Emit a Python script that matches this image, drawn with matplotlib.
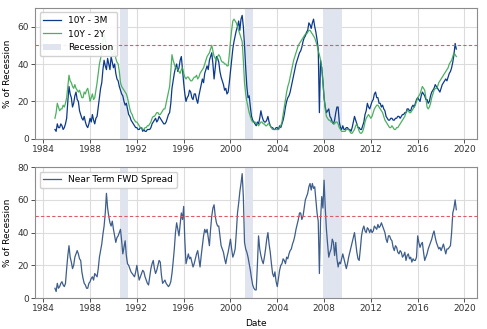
import numpy as np
import matplotlib
matplotlib.use('Agg')
import matplotlib.pyplot as plt

# sampling dates (decimal years), ten per year from 1985.0 to 2019.3
dates = np.round(np.arange(1985.0, 2019.31, 0.1), 1)

# recession probability from the 10Y - 3M spread [%]
p_10y3m = [
    5, 4, 8, 6, 6, 8, 7, 5, 6, 8,
    11, 20, 28, 24, 22, 17, 19, 23, 25, 21,
    20, 15, 13, 11, 10, 12, 9, 7, 6, 8,
    11, 9, 13, 10, 8, 11, 12, 17, 22, 27,
    30, 37, 42, 39, 37, 43, 40, 37, 44, 41,
    38, 40, 35, 32, 31, 28, 26, 24, 23, 20,
    18, 19, 16, 13, 12, 10, 9, 8, 7, 6,
    6, 5, 5, 6, 6, 4, 5, 4, 4, 5,
    5, 5, 6, 8, 9, 10, 11, 9, 10, 12,
    11, 10, 9, 8, 8, 9, 11, 13, 14, 19,
    27, 31, 35, 38, 40, 36, 38, 42, 44, 37,
    30, 24, 20, 22, 23, 26, 25, 22, 21, 24,
    24, 21, 19, 23, 26, 29, 32, 30, 35, 37,
    39, 37, 42, 44, 46, 40, 32, 38, 44, 43,
    41, 36, 33, 31, 29, 26, 27, 24, 25, 30,
    36, 42, 48, 52, 55, 58, 60, 63, 58, 64,
    66, 60, 50, 38, 28, 22, 23, 17, 12, 10,
    9, 8, 7, 9, 8, 11, 15, 12, 10, 9,
    9, 10, 12, 9, 7, 6, 6, 5, 5, 6,
    6, 5, 7, 6, 8, 10, 13, 17, 20, 22,
    23, 25, 28, 31, 34, 37, 40, 42, 44, 46,
    47, 49, 52, 54, 55, 57, 58, 62, 61, 59,
    62, 64, 60, 57, 53, 48, 14, 42, 38, 31,
    22, 17, 14, 15, 16, 12, 11, 9, 8, 10,
    14, 17, 17, 9, 6, 5, 7, 5, 5, 6,
    6, 5, 5, 4, 6, 9, 12, 10, 8, 6,
    6, 5, 5, 7, 9, 13, 15, 19, 17, 16,
    18, 20, 21, 24, 25, 22, 22, 19, 19, 17,
    18, 16, 15, 12, 11, 10, 10, 11, 11, 10,
    10, 11, 11, 12, 12, 11, 12, 13, 13, 14,
    14, 16, 16, 15, 15, 17, 18, 17, 19, 21,
    22, 21, 20, 23, 25, 24, 23, 21, 21, 19,
    20, 23, 25, 26, 27, 29, 28, 27, 26, 25,
    27, 29, 30, 31, 32, 31, 33, 35, 36, 38,
    41, 45, 51, 48,
]

# recession probability from the 10Y - 2Y spread [%]
p_10y2y = [
    11, 14, 19, 17, 15, 16, 16, 18, 17, 19,
    22, 28, 34, 31, 30, 28, 27, 29, 27, 26,
    25, 26, 24, 22, 22, 25, 24, 26, 27, 24,
    20, 22, 24, 21, 22, 26, 30, 35, 40, 43,
    46, 52, 56, 53, 50, 48, 47, 49, 46, 45,
    45, 47, 43, 41, 40, 36, 30, 28, 27, 26,
    25, 24, 22, 19, 16, 14, 13, 11, 10, 9,
    9, 8, 7, 6, 6, 5, 5, 6, 6, 7,
    7, 8, 9, 11, 12, 12, 13, 14, 14, 13,
    13, 14, 15, 16, 16, 19, 22, 25, 28, 36,
    45, 42, 40, 38, 38, 37, 36, 35, 37, 38,
    35, 33, 32, 33, 33, 32, 31, 31, 32, 33,
    33, 34, 32, 33, 35, 36, 37, 38, 40, 42,
    44, 45, 46, 48, 50, 47, 44, 43, 42, 44,
    45, 44, 42, 41, 41, 40, 40, 39, 39, 45,
    52, 58, 63, 64, 63, 62, 60, 58, 56, 54,
    52, 42, 30, 24, 20, 17, 14, 12, 10, 9,
    9, 9, 8, 8, 7, 8, 9, 9, 8, 8,
    7, 7, 8, 8, 7, 6, 5, 5, 5, 5,
    5, 5, 6, 7, 9, 13, 17, 21, 25, 28,
    30, 33, 36, 39, 42, 44, 46, 48, 50, 51,
    52, 53, 54, 55, 56, 56, 57, 58, 58, 57,
    56, 55, 54, 52, 50, 47, 45, 42, 38, 30,
    22, 16, 12, 11, 10, 10, 9, 9, 8, 8,
    9, 9, 8, 6, 5, 4, 4, 4, 4, 5,
    5, 5, 4, 3, 3, 4, 5, 7, 8, 6,
    4, 3, 3, 4, 6, 9, 11, 12, 13, 12,
    11, 12, 14, 16, 17, 18, 18, 17, 16, 15,
    14, 12, 10, 9, 8, 7, 6, 6, 7, 6,
    5, 5, 6, 6, 7, 8, 9, 10, 11, 12,
    14, 15, 15, 14, 14, 15, 16, 17, 18, 20,
    22, 23, 24, 26, 28, 27, 26, 22, 17, 16,
    17, 19, 22, 24, 26, 27, 27, 28, 30, 31,
    32, 33, 34, 35, 36, 37, 38, 40, 41, 42,
    44, 46, 45, 44,
]

# recession probability from the near term forward spread [%]
p_ntfs = [
    6, 4, 9, 6, 7, 9, 10, 8, 7, 9,
    18, 26, 32, 25, 22, 18, 20, 25, 27, 29,
    27, 24, 23, 16, 12, 9, 8, 6, 6, 9,
    10, 12, 13, 11, 15, 14, 13, 18, 25, 29,
    33, 39, 44, 52, 64, 55, 50, 46, 44, 47,
    42, 38, 34, 37, 38, 40, 42, 35, 27, 31,
    35, 26, 21, 20, 18, 16, 15, 14, 13, 16,
    20, 15, 11, 13, 15, 17, 16, 13, 11, 9,
    8, 13, 18, 21, 23, 18, 15, 17, 20, 23,
    22, 14, 9, 10, 11, 9, 8, 7, 8, 10,
    15, 22, 30, 40, 46, 42, 38, 45, 52, 48,
    56, 35, 21, 24, 27, 24, 25, 22, 19, 21,
    24, 27, 29, 24, 19, 26, 32, 38, 42, 40,
    42, 37, 32, 42, 50, 55, 57, 50, 46, 44,
    44, 38, 32, 30, 28, 24, 21, 25, 28, 32,
    36, 30, 25, 27, 30, 40, 52, 58, 65, 70,
    76, 62, 34, 30, 28, 25, 21, 17, 12, 8,
    6, 5, 5, 20, 38, 30, 26, 23, 21, 25,
    30, 36, 40, 33, 28, 21, 15, 13, 16, 10,
    7, 12, 17, 20, 21, 24, 23, 21, 25, 24,
    27, 29, 30, 33, 35, 38, 42, 45, 48, 52,
    52, 48, 50, 55, 60, 62, 64, 68, 70, 66,
    70, 67, 68, 60, 52, 47, 15, 48, 62, 55,
    72, 55, 42, 33, 25, 28, 30, 36, 34, 26,
    34, 24, 19, 22, 21, 24, 27, 24, 21, 18,
    21, 25, 28, 31, 34, 37, 40, 34, 28, 24,
    23, 30, 38, 42, 44, 41, 40, 43, 42, 40,
    42, 40, 41, 44, 43, 42, 45, 43, 44, 46,
    44, 42, 40, 36, 34, 38, 38, 36, 35, 31,
    29, 32, 31, 28, 27, 29, 28, 25, 26, 28,
    23, 26, 27, 24, 25, 22, 24, 23, 23, 25,
    38, 34, 31, 33, 34, 28, 23, 25, 27, 30,
    32, 34, 36, 39, 41, 37, 34, 32, 30, 31,
    29, 31, 33, 30, 27, 30, 30, 31, 32, 40,
    52, 55, 60, 54,
]

# NBER recessions (start, end) in decimal years
recessions = [(1990.55, 1991.2), (2001.2, 2001.9), (2007.95, 2009.5)]
threshold = 50
year_ticks = list(range(1984, 2021, 4))

plt.rcParams['font.size'] = 6.5
plt.rcParams['axes.edgecolor'] = '#8c8c8c'
plt.rcParams['xtick.color'] = '#333333'
plt.rcParams['ytick.color'] = '#333333'

fig = plt.figure(figsize=(4.87, 3.29), dpi=100)
ax1 = fig.add_axes([0.072, 0.578, 0.907, 0.398])
ax2 = fig.add_axes([0.072, 0.094, 0.907, 0.398])

span_kw = dict(color='#dfe4ef', lw=0)

# top panel
ax1.plot(dates, p_10y3m, color='#0b3a8c', lw=0.9, label='10Y - 3M')
ax1.plot(dates, p_10y2y, color='#3aa84f', lw=0.9, alpha=0.9, label='10Y - 2Y')
for i, (a, b) in enumerate(recessions):
    ax1.axvspan(a, b, label='Recession' if i == 0 else None, **span_kw)
ax1.axhline(threshold, color='#e05a66', lw=0.8, ls='--', dashes=(3, 2))
ax1.set_ylim(0, 70)
ax1.set_yticks([0, 20, 40, 60])
ax1.set_ylabel('% of Recession')
ax1.legend(loc='upper left', fontsize=6.5, framealpha=0.9, edgecolor='#cccccc')

# bottom panel
ax2.plot(dates, p_ntfs, color='#3d5d8c', lw=0.9, label='Near Term FWD Spread')
for a, b in recessions:
    ax2.axvspan(a, b, **span_kw)
ax2.axhline(threshold, color='#e05a66', lw=0.8, ls='--', dashes=(3, 2))
ax2.set_ylim(0, 80)
ax2.set_yticks([0, 20, 40, 60, 80])
ax2.set_ylabel('% of Recession')
ax2.set_xlabel('Date')
ax2.legend(loc='upper left', fontsize=6.5, framealpha=0.9, edgecolor='#cccccc')

for ax in (ax1, ax2):
    ax.set_xlim(1983.3, 2021.05)
    ax.set_xticks(year_ticks)
    ax.grid(color='#dcdcdc', lw=0.8)
    ax.set_axisbelow(True)
    ax.tick_params(length=3, width=0.6, pad=1.5)
    for s in ax.spines.values():
        s.set_linewidth(0.8)

fig.savefig('out.png', dpi=100)
